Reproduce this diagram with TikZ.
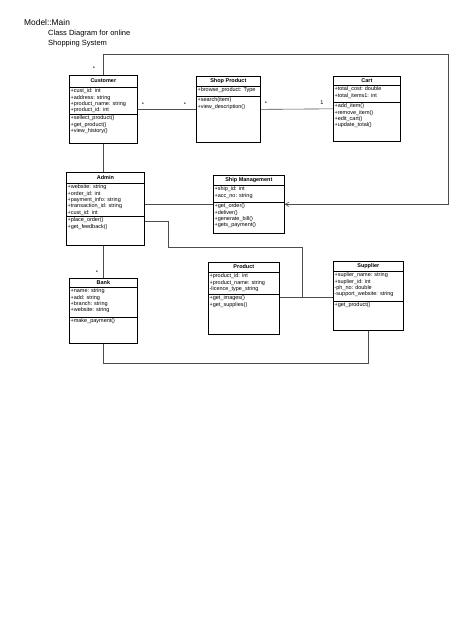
\documentclass[tikz,border=0pt]{standalone}
\usepackage{fontspec}
\setmainfont{Liberation Sans}
\usetikzlibrary{positioning,arrows}

% one UML class: name, top left, width, height, header, separator, title, attributes, operations
\newcommand{\umlclass}[9]{%
  \node[classnode, minimum width=#3pt, minimum height=#4pt] (#1) at #2 {};
  \draw[classline] ([yshift=-#5pt]#1.north west) -- ([yshift=-#5pt]#1.north east);
  \draw[classline] ([yshift=-#6pt]#1.north west) -- ([yshift=-#6pt]#1.north east);
  \node[classtitle] (#1-name) at ([yshift=-#5pt/2]#1.north) {#7};
  \node[classtext] (#1-attr) at ([yshift=-#5pt]#1.north west) {#8};
  \node[classtext] (#1-ops) at ([yshift=-#6pt]#1.north west) {#9};
}

\begin{document}
\begin{tikzpicture}[x=1pt,y=-1pt,
  classnode/.style={draw,anchor=north west,inner sep=0pt,line width=0.7pt,fill=white},
  classline/.style={line width=0.6pt},
  classtitle/.style={font=\fontsize{5.5}{6.3}\selectfont\bfseries,inner sep=0pt},
  classtext/.style={anchor=north west,align=left,inner xsep=1.4pt,inner ysep=1.8pt,font=\fontsize{5.5}{6.3}\selectfont},
  assoc/.style={draw=black!70,line width=0.6pt},
  mult/.style={font=\fontsize{5.5}{6}\selectfont,inner sep=0pt}]

\useasboundingbox (0,0) rectangle (474,632);

\node[anchor=base west,font=\fontsize{8.4}{10}\selectfont,inner sep=0pt] (model) at (24,25) {Model::Main};
\node[anchor=north west,align=left,font=\fontsize{7.5}{9.5}\selectfont,inner sep=0pt] (title) at (48,30) {Class Diagram for online\\Shopping System};

% classes
\umlclass{cust}{(69,75)}{68}{68}{12}{39}{Customer}
  {+cust\_id: int\\+address: string\\+product\_name: string\\+product\_id: int}
  {+sellect\_product()\\+get\_product()\\+view\_history()}
\umlclass{shop}{(196,76)}{64}{66}{10}{20}{Shop Product}
  {+browse\_product: Type}
  {+search(item)\\+view\_description()}
\umlclass{cart}{(333,76)}{67}{65}{9}{26}{Cart}
  {+total\_cost: double\\+total\_items1: int}
  {+add\_item()\\+remove\_item()\\+edit\_cart()\\+update\_total()}
\umlclass{adm}{(66,172)}{78}{73}{11}{44}{Admin}
  {+website: string\\+order\_id: int\\+payment\_info: string\\+transaction\_id: string\\+cust\_id: int}
  {+place\_order()\\+get\_feedback()}
\umlclass{ship}{(213,175)}{71}{58}{10}{27}{Ship Management}
  {+ship\_id: int\\+acc\_no: string}
  {+get\_order()\\+deliver()\\+generate\_bill()\\+gets\_payment()}
\umlclass{bank}{(69,278)}{68}{65}{9}{39}{Bank}
  {+name: string\\+add: string\\+branch: string\\+website: string}
  {+make\_payment()}
\umlclass{prod}{(208,262)}{71}{72}{10}{32}{Product}
  {+product\_id: int\\+product\_name: string\\-licence\_type\_string}
  {+get\_images()\\+get\_supplies()}
\umlclass{supp}{(333,261)}{70}{69}{10}{40}{Supplier}
  {+suplier\_name: string\\+suplier\_id: int\\-ph\_no: double\\-support\_website: string}
  {+get\_product()}

% associations
\coordinate (prod-supp) at (302,297);
\draw[assoc,-angle 60] (cust.north) |- (448,54) |- (ship.east);
\draw[assoc] (cust.east) -- (shop.west);
\draw[assoc] (shop.east) -- (cart.west);
\draw[assoc] (cust.south) -- (cust.south |- adm.north);
\draw[assoc] (ship.west -| adm.east) -- (ship.west);
\draw[assoc] ([yshift=-12pt]adm.east) -- ++(24,0) |- (302,247) -- (prod-supp);
\draw[assoc] (prod.east |- prod-supp) -- (supp.west |- prod-supp);
\draw[assoc] (bank.north |- adm.south) -- (bank.north);
\draw[assoc] (bank.south) -- ++(0,20) -| (supp.south);

% multiplicities
\node[mult] (m-cust) at (94,69) {*};
\node[mult] (m-cust-shop) at (143,105) {*};
\node[mult] (m-shop-cust) at (185,105) {*};
\node[mult] (m-shop-cart) at (266,104) {*};
\node[mult] (m-cart) at (322,103) {1};
\node[mult] (m-bank) at (97,273) {*};

\end{tikzpicture}
\end{document}
